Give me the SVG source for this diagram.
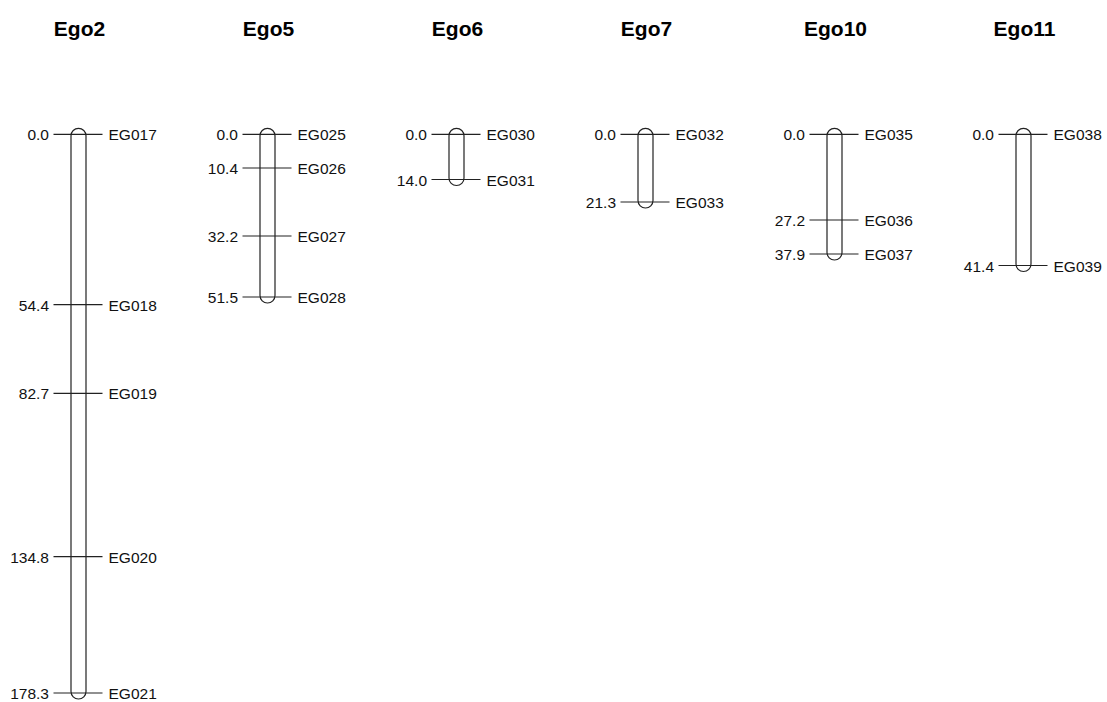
<svg xmlns="http://www.w3.org/2000/svg" width="1107" height="702" viewBox="0 0 1107 702">
<style>
.t{font-family:"Liberation Sans",Arial,sans-serif;font-size:21px;font-weight:bold;text-anchor:middle;fill:#000}
.l{font-family:"Liberation Sans",Arial,sans-serif;font-size:15.5px;fill:#111}
.r{text-anchor:end}
.c{fill:none;stroke:#222;stroke-width:1.2}
.k{stroke:#222;stroke-width:1.2}
</style>
<rect width="1107" height="702" fill="#fff"/>
<g id="Ego2">
<text class="t" x="79.5" y="36">Ego2</text>
<rect class="c" x="71" y="128.3" width="15" height="570.7" rx="7.5" ry="7.5"/>
<line class="k" x1="53.5" y1="134.3" x2="102.5" y2="134.3"/><text class="l r" x="49" y="140.3">0.0</text><text class="l" x="108.5" y="140.3">EG017</text>
<line class="k" x1="53.5" y1="304.7" x2="102.5" y2="304.7"/><text class="l r" x="49" y="310.7">54.4</text><text class="l" x="108.5" y="310.7">EG018</text>
<line class="k" x1="53.5" y1="393.4" x2="102.5" y2="393.4"/><text class="l r" x="49" y="399.4">82.7</text><text class="l" x="108.5" y="399.4">EG019</text>
<line class="k" x1="53.5" y1="556.6" x2="102.5" y2="556.6"/><text class="l r" x="49" y="562.6">134.8</text><text class="l" x="108.5" y="562.6">EG020</text>
<line class="k" x1="53.5" y1="693" x2="102.5" y2="693"/><text class="l r" x="49" y="699">178.3</text><text class="l" x="108.5" y="699">EG021</text>
</g>
<g id="Ego5">
<text class="t" x="268.5" y="36">Ego5</text>
<rect class="c" x="260" y="128.3" width="15" height="174.7" rx="7.5" ry="7.5"/>
<line class="k" x1="242.5" y1="134.3" x2="291.5" y2="134.3"/><text class="l r" x="238" y="140.3">0.0</text><text class="l" x="297.5" y="140.3">EG025</text>
<line class="k" x1="242.5" y1="168" x2="291.5" y2="168"/><text class="l r" x="238" y="174">10.4</text><text class="l" x="297.5" y="174">EG026</text>
<line class="k" x1="242.5" y1="236" x2="291.5" y2="236"/><text class="l r" x="238" y="242">32.2</text><text class="l" x="297.5" y="242">EG027</text>
<line class="k" x1="242.5" y1="297" x2="291.5" y2="297"/><text class="l r" x="238" y="303">51.5</text><text class="l" x="297.5" y="303">EG028</text>
</g>
<g id="Ego6">
<text class="t" x="457.5" y="36">Ego6</text>
<rect class="c" x="449" y="128.3" width="15" height="57.2" rx="7.5" ry="7.5"/>
<line class="k" x1="431.5" y1="134.3" x2="480.5" y2="134.3"/><text class="l r" x="427" y="140.3">0.0</text><text class="l" x="486.5" y="140.3">EG030</text>
<line class="k" x1="431.5" y1="179.5" x2="480.5" y2="179.5"/><text class="l r" x="427" y="185.5">14.0</text><text class="l" x="486.5" y="185.5">EG031</text>
</g>
<g id="Ego7">
<text class="t" x="646.5" y="36">Ego7</text>
<rect class="c" x="638" y="128.3" width="15" height="79.7" rx="7.5" ry="7.5"/>
<line class="k" x1="620.5" y1="134.3" x2="669.5" y2="134.3"/><text class="l r" x="616" y="140.3">0.0</text><text class="l" x="675.5" y="140.3">EG032</text>
<line class="k" x1="620.5" y1="202" x2="669.5" y2="202"/><text class="l r" x="616" y="208">21.3</text><text class="l" x="675.5" y="208">EG033</text>
</g>
<g id="Ego10">
<text class="t" x="835.5" y="36">Ego10</text>
<rect class="c" x="827" y="128.3" width="15" height="131.7" rx="7.5" ry="7.5"/>
<line class="k" x1="809.5" y1="134.3" x2="858.5" y2="134.3"/><text class="l r" x="805" y="140.3">0.0</text><text class="l" x="864.5" y="140.3">EG035</text>
<line class="k" x1="809.5" y1="220" x2="858.5" y2="220"/><text class="l r" x="805" y="226">27.2</text><text class="l" x="864.5" y="226">EG036</text>
<line class="k" x1="809.5" y1="254" x2="858.5" y2="254"/><text class="l r" x="805" y="260">37.9</text><text class="l" x="864.5" y="260">EG037</text>
</g>
<g id="Ego11">
<text class="t" x="1024.5" y="36">Ego11</text>
<rect class="c" x="1016" y="128.3" width="15" height="143.2" rx="7.5" ry="7.5"/>
<line class="k" x1="998.5" y1="134.3" x2="1047.5" y2="134.3"/><text class="l r" x="994" y="140.3">0.0</text><text class="l" x="1053.5" y="140.3">EG038</text>
<line class="k" x1="998.5" y1="265.5" x2="1047.5" y2="265.5"/><text class="l r" x="994" y="271.5">41.4</text><text class="l" x="1053.5" y="271.5">EG039</text>
</g>
</svg>
